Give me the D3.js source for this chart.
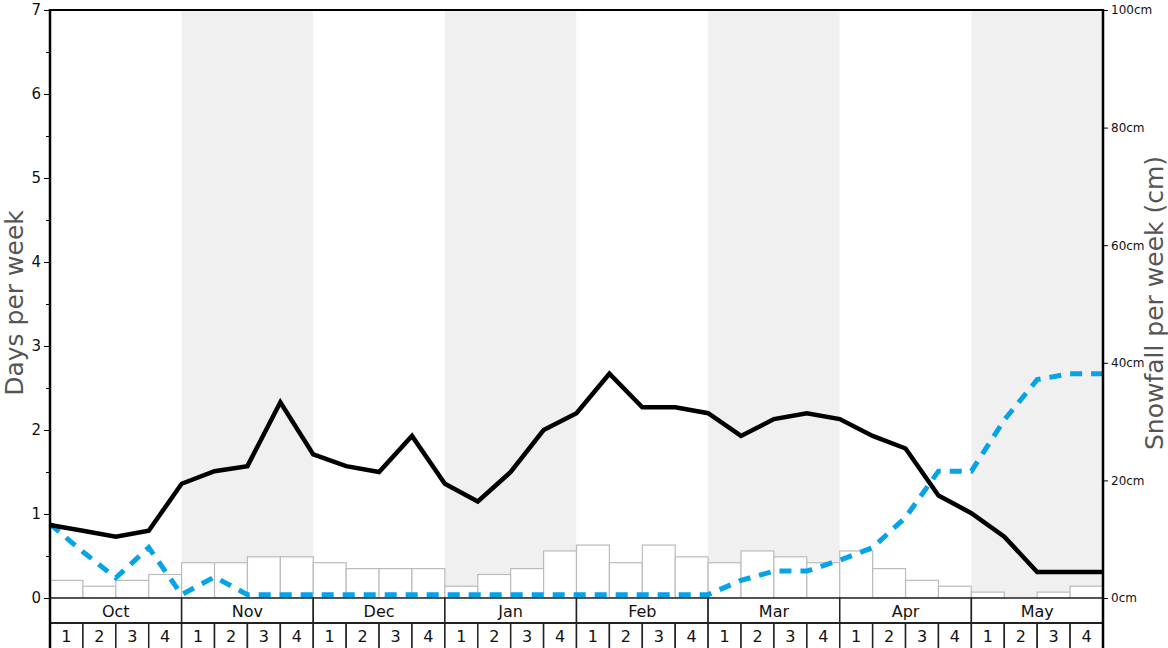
<!DOCTYPE html>
<html>
<head>
<meta charset="utf-8">
<script src="https://cdn.jsdelivr.net/npm/d3@7"></script>
<style>
  body { margin: 0; background: #fff; font-family: "DejaVu Sans", sans-serif; }
  .tick text { font-family: "DejaVu Sans", sans-serif; }
</style>
</head>
<body>
<script>
// データ
var months = ["Oct", "Nov", "Dec", "Jan", "Feb", "Mar", "Apr", "May"];
var weeks = [1, 2, 3, 4];
// 週ごとの降雪量 (cm)
var snowfall = [3, 2, 3, 4, 6, 6, 7, 7, 6, 5, 5, 5, 2, 4, 5, 8,
                9, 6, 9, 7, 6, 8, 7, 6, 8, 5, 3, 2, 1, 0, 1, 2];
// 週の境界ごとの値 (days per week)
var snowDays = [0.87, 0.80, 0.73, 0.80, 1.36, 1.51, 1.57, 2.33, 1.71, 1.57, 1.50,
                1.93, 1.36, 1.15, 1.50, 2.00, 2.20, 2.67, 2.27, 2.27, 2.20, 1.93,
                2.13, 2.20, 2.13, 1.93, 1.78, 1.22, 1.01, 0.73, 0.31, 0.31, 0.31];
var otherDays = [0.88, 0.55, 0.24, 0.60, 0.04, 0.25, 0.04, 0.04, 0.04, 0.04, 0.04,
                 0.04, 0.04, 0.04, 0.04, 0.04, 0.04, 0.04, 0.04, 0.04, 0.04, 0.21,
                 0.32, 0.32, 0.45, 0.60, 0.96, 1.51, 1.51, 2.12, 2.60, 2.67, 2.67];
var leftTicks = [0, 1, 2, 3, 4, 5, 6, 7];
var rightTicks = [0, 20, 40, 60, 80, 100];

// サイズ
var W = 1168, H = 648;
var margin = {top: 10, right: 65, bottom: 50, left: 50};
var width = W - margin.left - margin.right,
    height = H - margin.top - margin.bottom;
var rowH = 25;

var nWeeks = months.length * weeks.length;

var xScale = d3.scaleLinear().domain([0, nWeeks]).range([0, width]);
var yScale = d3.scaleLinear().domain([0, 7]).range([height, 0]);
var ySnow = d3.scaleLinear().domain([0, 100]).range([height, 0]);

var svg = d3.select("body").append("svg")
    .attr("width", W)
    .attr("height", H)
    .append("g")
    .attr("transform", "translate(" + margin.left + "," + margin.top + ")");

// 背景の帯
svg.selectAll(".band")
    .data(months)
  .enter().append("rect")
    .attr("x", function(d, i) { return xScale(i * 4); })
    .attr("y", 0)
    .attr("width", xScale(4) - xScale(0))
    .attr("height", height)
    .style("fill", function(d, i) { return i % 2 == 1 ? "#f0f0f0" : "#fff"; });

// 降雪量のバー
svg.selectAll(".bar")
    .data(snowfall)
  .enter().append("rect")
    .attr("x", function(d, i) { return xScale(i); })
    .attr("y", function(d) { return ySnow(d); })
    .attr("width", xScale(1) - xScale(0))
    .attr("height", function(d) { return height - ySnow(d); })
    .style("fill", "#fff")
    .style("stroke", "#bbbbbb")
    .style("stroke-width", 1.2);

// ライン
var valueline = d3.line()
    .x(function(d, i) { return xScale(i); })
    .y(function(d) { return yScale(d); })
    .curve(d3.curveLinear);

svg.append("path")
    .attr("d", valueline(otherDays))
    .style("fill", "none")
    .style("stroke", "#05a3e8")
    .style("stroke-width", 5)
    .style("stroke-dasharray", "12,9");

svg.append("path")
    .attr("d", valueline(snowDays))
    .style("fill", "none")
    .style("stroke", "#000")
    .style("stroke-width", 4.5)
    .style("stroke-linejoin", "miter");

// 月と週の行
var rows = svg.append("g").attr("transform", "translate(0," + height + ")");

rows.selectAll(".mcell")
    .data(months)
  .enter().append("rect")
    .attr("x", function(d, i) { return xScale(i * 4); })
    .attr("y", 0)
    .attr("width", xScale(4) - xScale(0))
    .attr("height", rowH)
    .style("fill", "#fff")
    .style("stroke", "#222")
    .style("stroke-width", 1.5);

rows.selectAll(".mlabel")
    .data(months)
  .enter().append("text")
    .attr("x", function(d, i) { return xScale(i * 4 + 2); })
    .attr("y", rowH / 2 + 6)
    .attr("text-anchor", "middle")
    .style("font-size", "16px")
    .style("fill", "#111")
    .text(function(d) { return d; });

var weekData = d3.range(nWeeks);
rows.selectAll(".wcell")
    .data(weekData)
  .enter().append("rect")
    .attr("x", function(d) { return xScale(d); })
    .attr("y", rowH)
    .attr("width", xScale(1) - xScale(0))
    .attr("height", rowH + 2)
    .style("fill", "#fff")
    .style("stroke", "#222")
    .style("stroke-width", 1.5);

rows.selectAll(".wlabel")
    .data(weekData)
  .enter().append("text")
    .attr("x", function(d) { return xScale(d + 0.5); })
    .attr("y", rowH + rowH / 2 + 6)
    .attr("text-anchor", "middle")
    .style("font-size", "16px")
    .style("fill", "#111")
    .text(function(d) { return weeks[d % 4]; });

rows.append("line")
    .attr("x1", 0).attr("x2", width)
    .attr("y1", rowH).attr("y2", rowH)
    .style("stroke", "#222").style("stroke-width", 2);

// 枠線
svg.append("line")
    .attr("x1", 0).attr("x2", width).attr("y1", 0).attr("y2", 0)
    .style("stroke", "#000").style("stroke-width", 2);

// 左軸
var leftAxis = svg.append("g")
    .call(d3.axisLeft(yScale).tickValues(leftTicks).tickFormat(d3.format("d")).tickSize(6).tickSizeOuter(0));
leftAxis.select(".domain").remove();
leftAxis.selectAll(".tick text").style("font-size", "15px").style("fill", "#111");

svg.append("g")
    .call(d3.axisLeft(yScale).tickValues(d3.range(0.5, 7, 1)).tickFormat("").tickSize(4))
    .select(".domain").remove();

svg.append("line")
    .attr("x1", 0).attr("x2", 0).attr("y1", -1).attr("y2", H - margin.top)
    .style("stroke", "#000").style("stroke-width", 2.5);

// 右軸
var rightAxis = svg.append("g")
    .attr("transform", "translate(" + width + ",0)")
    .call(d3.axisRight(ySnow).tickValues(rightTicks).tickFormat(function(d) { return d + "cm"; }).tickSize(5).tickPadding(3));
rightAxis.select(".domain").remove();
rightAxis.selectAll(".tick text").style("font-size", "12px").style("fill", "#111");

svg.append("line")
    .attr("x1", width).attr("x2", width).attr("y1", -1).attr("y2", H - margin.top)
    .style("stroke", "#000").style("stroke-width", 2.5);

// 軸ラベル
svg.append("text")
    .attr("transform", "translate(" + (-27) + "," + (height / 2 - 1) + ") rotate(-90)")
    .attr("text-anchor", "middle")
    .style("font-size", "25px")
    .style("fill", "#555")
    .text("Days per week");

svg.append("text")
    .attr("transform", "translate(" + (width + 60) + "," + (height / 2 - 1) + ") rotate(-90)")
    .attr("text-anchor", "middle")
    .style("font-size", "25px")
    .style("fill", "#555")
    .text("Snowfall per week (cm)");
</script>
</body>
</html>
